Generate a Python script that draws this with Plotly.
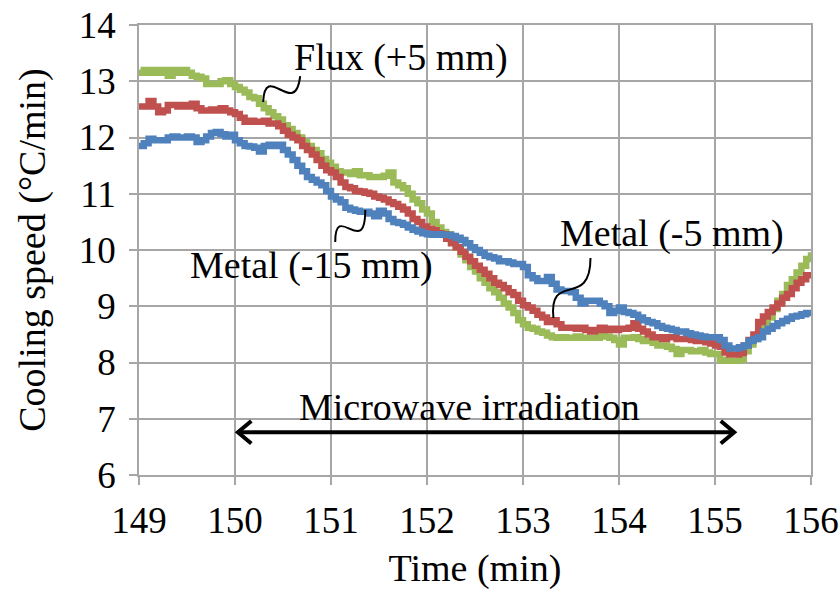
import plotly.graph_objects as go

# time axis: 149.00 .. 156.00 min, step 0.05
time_min = [round(149 + i * 0.05, 2) for i in range(141)]

flux_p5 = [
    13.15, 13.2, 13.15, 13.2, 13.15, 13.2, 13.1, 13.2, 13.15, 13.2,
    13.15, 13.1, 13.08, 13.05, 12.95, 12.95, 12.95, 13.0, 13.02, 12.95,
    12.9, 12.85, 12.8, 12.72, 12.7, 12.6, 12.52, 12.45, 12.38, 12.32,
    12.22, 12.15, 12.08, 12.0, 11.92, 11.85, 11.78, 11.72, 11.62, 11.55,
    11.48, 11.4, 11.38, 11.38, 11.35, 11.4, 11.33, 11.33, 11.3, 11.3,
    11.3, 11.32, 11.38, 11.2, 11.15, 11.1, 11.0, 10.9, 10.83, 10.72,
    10.65, 10.5, 10.4, 10.32, 10.28, 10.18, 10.05, 9.92, 9.82, 9.7,
    9.62, 9.5, 9.42, 9.32, 9.25, 9.15, 9.05, 8.98, 8.88, 8.75,
    8.68, 8.62, 8.6, 8.55, 8.53, 8.48, 8.45, 8.44, 8.45, 8.44,
    8.44, 8.46, 8.44, 8.44, 8.44, 8.44, 8.48, 8.46, 8.44, 8.4,
    8.32, 8.44, 8.44, 8.45, 8.42, 8.38, 8.38, 8.35, 8.3, 8.3,
    8.28, 8.24, 8.15, 8.22, 8.22, 8.2, 8.2, 8.22, 8.18, 8.15,
    8.15, 8.05, 8.03, 8.03, 8.03, 8.05, 8.2, 8.32, 8.42, 8.55,
    8.65, 8.8, 8.95, 9.1, 9.22, 9.38, 9.48, 9.6, 9.72, 9.84,
    9.96,
]

metal_m5 = [
    12.55, 12.55, 12.65, 12.55, 12.45, 12.48, 12.58, 12.58, 12.55, 12.58,
    12.55, 12.6, 12.52, 12.48, 12.48, 12.5, 12.48, 12.52, 12.48, 12.45,
    12.42, 12.35, 12.28, 12.3, 12.28, 12.28, 12.3, 12.25, 12.25, 12.2,
    12.12, 12.05, 12.0, 11.95, 11.85, 11.78, 11.7, 11.6, 11.5, 11.42,
    11.38, 11.3, 11.2, 11.12, 11.1, 11.05, 11.04, 11.02, 11.0, 10.95,
    10.93, 10.9, 10.85, 10.82, 10.77, 10.72, 10.65, 10.55, 10.5, 10.42,
    10.38, 10.35, 10.3, 10.28, 10.2, 10.12, 10.05, 9.97, 9.88, 9.8,
    9.72, 9.65, 9.58, 9.5, 9.42, 9.38, 9.32, 9.25, 9.2, 9.1,
    9.02, 8.98, 8.92, 8.85, 8.8, 8.72, 8.75, 8.68, 8.62, 8.62,
    8.62, 8.6, 8.62, 8.58, 8.55, 8.58, 8.62, 8.58, 8.6, 8.58,
    8.6, 8.6, 8.62, 8.7, 8.6, 8.55, 8.5, 8.45, 8.45, 8.42,
    8.45, 8.45, 8.42, 8.42, 8.42, 8.4, 8.38, 8.38, 8.36, 8.34,
    8.3, 8.28, 8.18, 8.14, 8.14, 8.17, 8.3, 8.4, 8.5, 8.72,
    8.82, 8.9, 8.98, 9.05, 9.15, 9.22, 9.32, 9.42, 9.48, 9.55,
    9.6,
]

metal_m15 = [
    11.85, 11.9, 11.98, 11.95, 11.95, 11.95, 12.0, 12.02, 12.0, 12.0,
    12.02, 12.0, 11.92, 11.95, 12.02, 12.08, 12.1, 12.06, 12.02, 12.05,
    11.95, 11.9, 11.85, 11.84, 11.82, 11.75, 11.85, 11.87, 11.85, 11.87,
    11.78, 11.7, 11.6, 11.5, 11.4, 11.3, 11.25, 11.2, 11.15, 11.05,
    10.95, 10.9, 10.85, 10.75, 10.72, 10.7, 10.68, 10.68, 10.65, 10.6,
    10.7, 10.65, 10.55, 10.5, 10.48, 10.45, 10.4, 10.36, 10.33, 10.3,
    10.28, 10.27, 10.28, 10.27, 10.27, 10.25, 10.22, 10.18, 10.12, 10.05,
    10.0, 9.95, 9.9, 9.87, 9.85, 9.8, 9.8, 9.78, 9.75, 9.75,
    9.7, 9.55, 9.5, 9.45, 9.45, 9.52, 9.4, 9.3, 9.27, 9.27,
    9.25, 9.15, 9.05, 9.1, 9.1, 9.1, 9.05, 9.0, 8.88, 8.92,
    8.98, 8.9, 8.88, 8.85, 8.8, 8.75, 8.72, 8.7, 8.65, 8.62,
    8.6, 8.58, 8.55, 8.55, 8.52, 8.5, 8.48, 8.46, 8.45, 8.45,
    8.45, 8.4, 8.3, 8.25, 8.25, 8.27, 8.3, 8.38, 8.42, 8.45,
    8.55, 8.6, 8.65, 8.7, 8.74, 8.78, 8.82, 8.83, 8.86, 8.88,
    8.9,
]

x_ticks = [149, 150, 151, 152, 153, 154, 155, 156]
y_ticks = [6, 7, 8, 9, 10, 11, 12, 13, 14]

FONT = "Liberation Serif"
GRID = "#A6A6A6"
TXT = 38
TICK = 37

fig = go.Figure()
for name, ys, col in [
    ("Flux (+5 mm)", flux_p5, "#9BBB59"),
    ("Metal (-5 mm)", metal_m5, "#C0504D"),
    ("Metal (-15 mm)", metal_m15, "#4F81BD"),
]:
    fig.add_trace(go.Scatter(x=time_min, y=ys, mode="lines", name=name,
                             line=dict(color=col, width=6.5, shape="hv")))

# label annotations
labels = [
    ("Flux (+5 mm)", 151.73, 13.43),
    ("Metal (-15 mm)", 150.80, 9.73),
    ("Metal (-5 mm)", 154.55, 10.30),
    ("Microwave irradiation", 152.44, 7.21),
]
for txt, xx, yy in labels:
    fig.add_annotation(x=xx, y=yy, xref="x", yref="y", text=txt, showarrow=False,
                       font=dict(family=FONT, size=TXT, color="black"))

# squiggly leader lines
leaders = [
    "M 150.293,12.631 C 150.314,13.378 150.627,12.311 150.679,13.093",
    "M 151.044,10.142 C 151.044,10.889 151.357,9.822 151.357,10.711",
    "M 153.317,8.791 C 153.265,9.644 153.703,8.933 153.703,9.858",
]
for p in leaders:
    fig.add_shape(type="path", path=p, xref="x", yref="y",
                  line=dict(color="black", width=2))

# double-headed arrow for microwave irradiation
ya = 6.76
fig.add_shape(type="line", x0=150.03, x1=155.20, y0=ya, y1=ya, xref="x", yref="y",
              line=dict(color="black", width=4))
fig.add_shape(type="path", xref="x", yref="y",
              path=f"M 150.17,{ya+0.2} L 150.03,{ya} L 150.17,{ya-0.2}",
              line=dict(color="black", width=4))
fig.add_shape(type="path", xref="x", yref="y",
              path=f"M 155.06,{ya+0.2} L 155.20,{ya} L 155.06,{ya-0.2}",
              line=dict(color="black", width=4))

axis_common = dict(
    showgrid=True, gridcolor=GRID, gridwidth=1.5,
    showline=True, linecolor=GRID, linewidth=1.5, mirror=True,
    ticks="outside", ticklen=8, tickcolor=GRID, tickwidth=1.5,
    tickfont=dict(family=FONT, size=TICK, color="black"),
    zeroline=False, automargin=False,
)

fig.update_xaxes(range=[149, 156], tickvals=x_ticks, ticklabelstandoff=4,
                 title=dict(text="Time (min)", font=dict(family=FONT, size=TXT, color="black"), standoff=14),
                 **axis_common)
fig.update_yaxes(range=[6, 14], tickvals=y_ticks, ticklabelstandoff=6,
                 title=dict(text="Cooling speed (°C/min)", font=dict(family=FONT, size=TXT, color="black"), standoff=22),
                 **axis_common)

fig.update_layout(
    width=839, height=590,
    margin=dict(l=139, r=28, t=25, b=115),
    plot_bgcolor="white", paper_bgcolor="white",
    showlegend=False,
    font=dict(family=FONT, size=TXT, color="black"),
)

fig.write_html("out.html")
